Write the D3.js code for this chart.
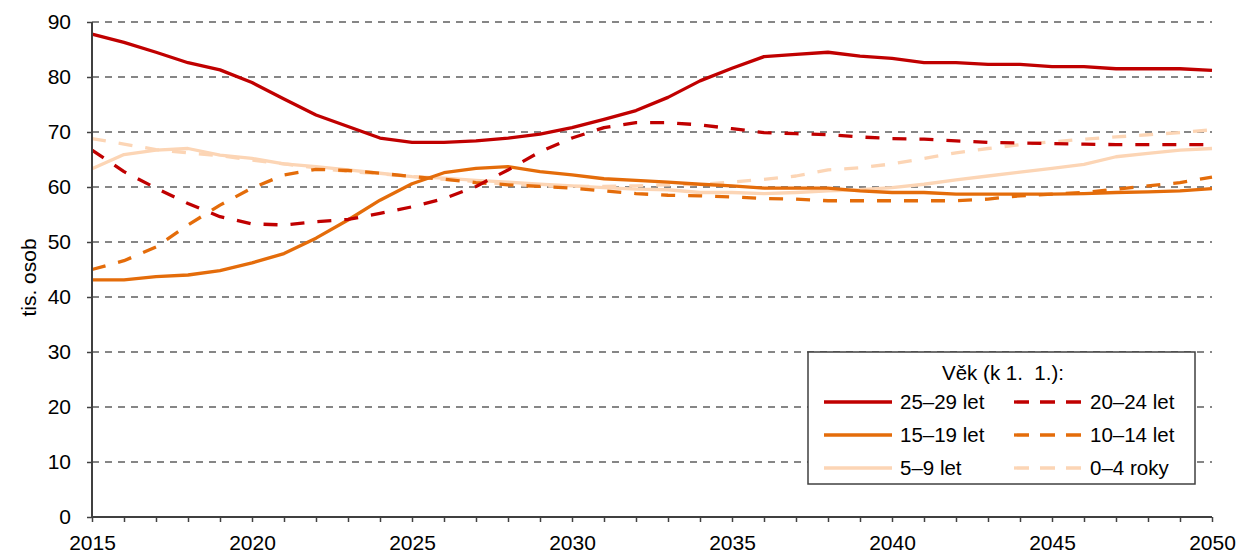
<!DOCTYPE html>
<html>
<head>
<meta charset="utf-8">
<script src="https://cdn.jsdelivr.net/npm/d3@7"></script>
<style>
  body { margin: 0; background: #fff; }
  svg { display: block; font-family: "Liberation Sans", Arial, sans-serif; }
</style>
</head>
<body>
<svg id="chart" width="1239" height="554"></svg>
<script>
// years on the x axis
const years = d3.range(2015, 2051);
const yTicks = [0, 10, 20, 30, 40, 50, 60, 70, 80, 90];
const xTickLabels = [2015, 2020, 2025, 2030, 2035, 2040, 2045, 2050];

// values in thousands of persons
const age25_29 = [87.8, 86.3, 84.5, 82.6, 81.3, 79.0, 76.0, 73.1, 71.0, 68.9, 68.1, 68.1,
  68.4, 68.9, 69.6, 70.8, 72.3, 73.9, 76.3, 79.3, 81.6, 83.7, 84.1, 84.5, 83.8, 83.4,
  82.6, 82.6, 82.3, 82.3, 81.9, 81.9, 81.5, 81.5, 81.5, 81.2];
const age20_24 = [66.7, 62.8, 59.8, 57.0, 54.6, 53.3, 53.1, 53.7, 54.1, 55.2, 56.4, 57.9,
  60.1, 63.1, 66.4, 68.9, 70.8, 71.7, 71.7, 71.3, 70.6, 69.9, 69.7, 69.5, 69.1, 68.8,
  68.7, 68.4, 68.1, 68.0, 67.9, 67.8, 67.7, 67.7, 67.7, 67.7];
const age15_19 = [43.1, 43.1, 43.7, 44.0, 44.8, 46.2, 47.9, 50.7, 54.0, 57.6, 60.6, 62.6,
  63.4, 63.7, 62.8, 62.2, 61.5, 61.2, 60.9, 60.5, 60.2, 59.8, 59.8, 59.8, 59.3, 59.0,
  59.0, 58.7, 58.7, 58.7, 58.7, 58.8, 59.0, 59.1, 59.3, 59.7];
const age10_14 = [45.0, 46.6, 49.1, 53.1, 56.7, 59.8, 62.2, 63.2, 63.0, 62.5, 61.9, 61.4,
  60.8, 60.4, 60.1, 59.8, 59.3, 58.8, 58.5, 58.4, 58.2, 57.9, 57.8, 57.5, 57.5, 57.5,
  57.5, 57.5, 57.8, 58.4, 58.7, 59.0, 59.6, 60.2, 60.8, 61.8];
const age5_9 = [63.3, 65.9, 66.7, 67.0, 65.8, 65.2, 64.2, 63.7, 63.1, 62.5, 61.9, 61.6,
  61.2, 60.9, 60.5, 60.2, 59.9, 59.6, 59.5, 59.0, 59.0, 58.8, 59.0, 59.3, 59.5, 59.9,
  60.5, 61.3, 62.0, 62.7, 63.4, 64.1, 65.5, 66.1, 66.7, 67.0];
const age0_4 = [68.8, 67.8, 66.8, 66.2, 65.7, 64.9, 64.2, 63.5, 62.8, 62.4, 61.9, 61.4,
  61.0, 60.5, 60.2, 60.1, 60.1, 60.2, 60.4, 60.5, 60.9, 61.4, 62.0, 63.1, 63.5, 64.2,
  65.2, 66.2, 67.0, 67.7, 68.2, 68.7, 69.1, 69.5, 69.9, 70.4];

const seriesNames = ['25–29 let', '20–24 let', '15–19 let', '10–14 let', '5–9 let', '0–4 roky'];

// styling kept apart from data
const styles = [
  { color: '#C00000', dash: null },
  { color: '#C00000', dash: '14,13' },
  { color: '#E46C0A', dash: null },
  { color: '#E46C0A', dash: '14,13' },
  { color: '#FCD5B5', dash: null },
  { color: '#FCD5B5', dash: '14,13' },
];

const seriesValues = [age25_29, age20_24, age15_19, age10_14, age5_9, age0_4];
const series = seriesNames.map((name, i) => ({ name, values: seriesValues[i], style: styles[i] }));

const svg = d3.select('#chart');
const margin = { left: 92, right: 27, top: 22, bottom: 37 };
const width = 1239 - margin.left - margin.right;
const height = 554 - margin.top - margin.bottom;
const fontSize = 21;

const x = d3.scaleLinear().domain([2015, 2050]).range([0, width]);
const y = d3.scaleLinear().domain([0, 90]).range([height, 0]);

const g = svg.append('g').attr('transform', `translate(${margin.left},${margin.top})`);

// gridlines
g.append('g')
  .selectAll('line')
  .data(yTicks.filter(d => d > 0))
  .join('line')
  .attr('x1', 0)
  .attr('x2', width)
  .attr('y1', d => y(d))
  .attr('y2', d => y(d))
  .attr('stroke', '#868686')
  .attr('stroke-width', 2)
  .attr('stroke-dasharray', '7,6');

// series lines (light ones first, dark on top)
const line = d3.line()
  .x((d, i) => x(years[i]))
  .y(d => y(d));

const drawOrder = [5, 4, 3, 2, 1, 0];
g.append('g')
  .selectAll('path')
  .data(drawOrder.map(i => series[i]))
  .join('path')
  .attr('fill', 'none')
  .attr('stroke', d => d.style.color)
  .attr('stroke-width', 3.3)
  .attr('stroke-dasharray', d => d.style.dash)
  .attr('stroke-linejoin', 'round')
  .attr('d', d => line(d.values));

// axes
const yAxis = g.append('g')
  .call(d3.axisLeft(y).tickValues(yTicks).tickSize(5).tickPadding(16));
const xAxis = g.append('g')
  .attr('transform', `translate(0,${height})`)
  .call(d3.axisBottom(x).tickValues(years).tickSize(5).tickPadding(13)
    .tickFormat(d => (xTickLabels.includes(d) ? d : '')));

[yAxis, xAxis].forEach(ax => {
  ax.select('.domain').attr('stroke', '#404040').attr('stroke-width', 2);
  ax.selectAll('.tick line').attr('stroke', '#404040').attr('stroke-width', 1.5);
  ax.selectAll('.tick text').attr('fill', '#000').attr('font-size', fontSize)
    .attr('font-family', '"Liberation Sans", Arial, sans-serif');
});
xAxis.select('.domain').attr('d', `M0,0H${width}`);
yAxis.select('.domain').attr('d', `M0,${height}V0`);

// y axis title
svg.append('text')
  .attr('transform', `translate(36,${margin.top + height / 2 + 8}) rotate(-90)`)
  .attr('text-anchor', 'middle')
  .attr('font-size', fontSize)
  .attr('fill', '#000')
  .text('tis. osob');

// legend
const legend = svg.append('g').attr('transform', 'translate(808,352)');
legend.append('rect')
  .attr('width', 387)
  .attr('height', 132)
  .attr('fill', '#fff')
  .attr('stroke', '#404040')
  .attr('stroke-width', 1.5);
legend.append('text')
  .attr('x', 195)
  .attr('y', 28)
  .attr('text-anchor', 'middle')
  .attr('font-size', 20.5)
  .attr('fill', '#000')
  .style('white-space', 'pre')
  .text('Věk (k 1.  1.):');

const items = legend.selectAll('g.item')
  .data(series)
  .join('g')
  .attr('class', 'item')
  .attr('transform', (d, i) => `translate(${i % 2 === 0 ? 16 : 206},${50 + Math.floor(i / 2) * 33})`);
items.append('line')
  .attr('x1', 0)
  .attr('x2', 68)
  .attr('stroke', d => d.style.color)
  .attr('stroke-width', 3.3)
  .attr('stroke-dasharray', d => (d.style.dash ? '15,11' : null));
items.append('text')
  .attr('x', 76)
  .attr('y', 7)
  .attr('font-size', 20.5)
  .attr('fill', '#000')
  .text(d => d.name);
</script>
</body>
</html>
